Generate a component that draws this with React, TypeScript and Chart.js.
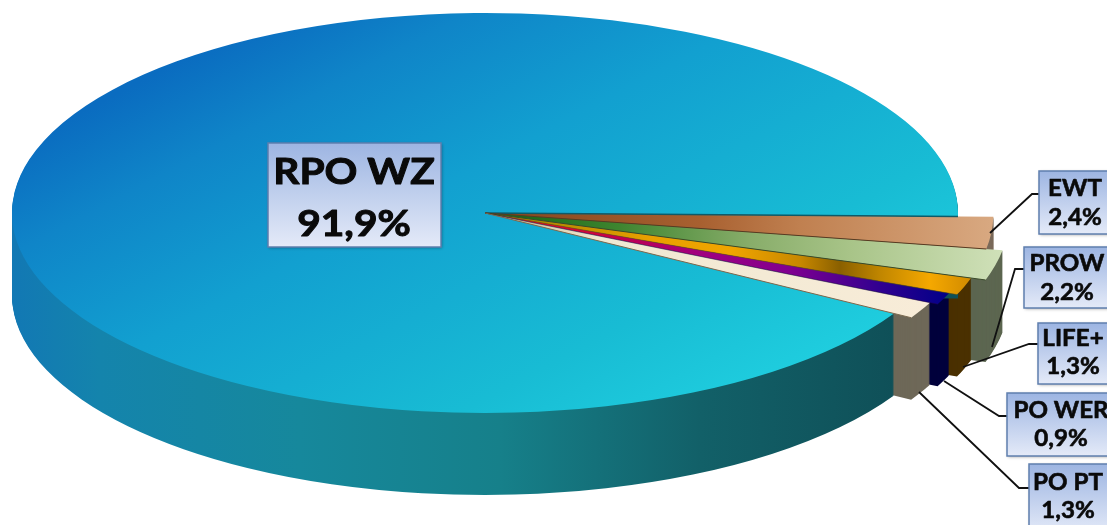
import React, { useEffect, useRef } from "react";
import { Chart, registerables } from "chart.js";

Chart.register(...registerables);

const categories = ["EWT", "PROW", "LIFE+", "PO WER", "PO PT", "RPO WZ"];
const values = [2.4, 2.2, 1.3, 0.9, 1.3, 91.9];
const valueLabels = ["2,4%", "2,2%", "1,3%", "0,9%", "1,3%", "91,9%"];

// Projection of the flat pie to the tilted disc
const CX = 485, CY = 213, RX = 473, RY = 200, DEPTH = 82;
const radiusFactor = [1.075, 1.11, 1.078, 1.06, 1.042, 1];

const topStops: [number, string][][] = [
  [[485, "#4a2810"], [520, "#8a4a20"], [700, "#a86030"], [800, "#c08050"], [990, "#d8a880"]],
  [[520, "#1a6a18"], [620, "#3f8530"], [750, "#88ad6a"], [850, "#a8c488"], [1000, "#cfe0b8"]],
  [[540, "#b08800"], [650, "#e8a000"], [730, "#f0a500"], [800, "#c88800"], [840, "#8a6000"], [880, "#c08600"], [930, "#f5a800"], [972, "#d08a00"]],
  [[540, "#e01020"], [620, "#c00050"], [700, "#a00080"], [790, "#800090"], [880, "#300090"], [949, "#000088"]],
  [[500, "#c8b890"], [600, "#f0e8d2"], [930, "#f8ecd8"]],
];
const wallColors = ["#7a6a5a", "#5c6650", "#4a3000", "#00003c", "#6e6858"];
const edgeColors = ["#5a3a20", "#3a4a2a", "#6a5000", "#200040", "#7a6a50"];
const bigWallStops: [number, string][] = [[12, "#1278b4"], [100, "#1484ac"], [300, "#16889c"], [500, "#16808a"], [700, "#126068"], [894, "#0f5058"]];
const bigTopStops: [number, string][] = [[0, "#0a6cc0"], [0.16, "#0f85c8"], [0.4, "#12a0d0"], [0.76, "#18bcd4"], [1, "#20d0e0"]];

type Lab = { x: number; y: number; w: number; h: number; tx: number; y1: number; y2: number; size: number; stretch: number; leader?: number[][] };
const labelLayout: Lab[] = [
  { x: 1039, y: 171, w: 90, h: 63, tx: 1075, y1: 189, y2: 218, size: 23, stretch: 1.05, leader: [[990, 233], [1032, 194], [1039, 194]] },
  { x: 1024, y: 247, w: 110, h: 61, tx: 1067, y1: 264, y2: 293, size: 23, stretch: 1.05, leader: [[992, 347], [1015, 269], [1024, 269]] },
  { x: 1038, y: 323, w: 90, h: 61, tx: 1073, y1: 339, y2: 367, size: 23, stretch: 1.05, leader: [[963, 367], [1029, 344], [1038, 344]] },
  { x: 1007, y: 393, w: 130, h: 63, tx: 1061, y1: 411, y2: 439, size: 23, stretch: 1.05, leader: [[944, 381], [999, 416], [1007, 416]] },
  { x: 1029, y: 464, w: 100, h: 70, tx: 1068, y1: 483, y2: 511, size: 23, stretch: 1.05, leader: [[919, 392], [1019, 488], [1029, 488]] },
  { x: 268, y: 143, w: 173, h: 104, tx: 354, y1: 172, y2: 224, size: 37, stretch: 1.1 },
];

const pie3d = {
  id: "pie3d",
  beforeDatasetsDraw(chart: any) {
    const ctx: CanvasRenderingContext2D = chart.ctx;
    const els = chart.getDatasetMeta(0).data;
    const drawEl = (i: number, fill: any, f: number, d: number) => {
      const el = els[i];
      const R = el.outerRadius;
      const saved = el.options;
      const o = Object.create(saved);
      o.backgroundColor = fill;
      o.borderWidth = 0;
      el.options = o;
      ctx.save();
      ctx.translate(CX, CY + d);
      ctx.scale((RX * f) / R, (RY * f) / R);
      ctx.translate(-el.x, -el.y);
      el.draw(ctx);
      ctx.restore();
      el.options = saved;
    };
    const hGrad = (i: number, stops: [number, string][], f: number) => {
      const el = els[i];
      const sx = (RX * f) / el.outerRadius;
      const X0 = stops[0][0], X1 = stops[stops.length - 1][0];
      const g = ctx.createLinearGradient(el.x + (X0 - CX) / sx, 0, el.x + (X1 - CX) / sx, 0);
      stops.forEach(([X, c]) => g.addColorStop((X - X0) / (X1 - X0), c));
      return g;
    };
    const last = els.length - 1;
    // walls of the small slices, back to front
    for (let i = 0; i < last; i++) {
      for (let d = DEPTH; d >= 1; d--) drawEl(i, wallColors[i], radiusFactor[i], d);
    }
    // big slice: wall, then top
    const bigWall = hGrad(last, bigWallStops, 1);
    for (let d = DEPTH; d >= 1; d--) drawEl(last, bigWall, 1, d);
    const el = els[last];
    const R = el.outerRadius;
    const top = ctx.createLinearGradient(el.x - 0.765 * R, el.y - 0.613 * R, el.x + 0.841 * R, el.y + 0.675 * R);
    bigTopStops.forEach(([t, c]) => top.addColorStop(t, c));
    drawEl(last, top, 1, 0);
    // tops of the small slices
    for (let i = 0; i < last; i++) drawEl(i, hGrad(i, topStops[i], radiusFactor[i]), radiusFactor[i], 0);
    // thin edges between the slices
    const edge = (angle: number, f: number, color: string, w: number) => {
      ctx.strokeStyle = color;
      ctx.lineWidth = w;
      ctx.beginPath();
      ctx.moveTo(CX, CY);
      ctx.lineTo(CX + RX * f * Math.cos(angle), CY + RY * f * Math.sin(angle));
      ctx.stroke();
    };
    edge(els[0].startAngle, 1, "#0f5a68", 1.6);
    for (let i = 0; i < last; i++) edge(els[i].endAngle, radiusFactor[i], edgeColors[i], i === 2 || i === 3 ? 0.5 : 1);
    return false;
  },
  afterDraw(chart: any) {
    const ctx: CanvasRenderingContext2D = chart.ctx;
    labelLayout.forEach((l, i) => {
      ctx.save();
      if (l.leader) {
        ctx.strokeStyle = "#111";
        ctx.lineWidth = 1.8;
        ctx.beginPath();
        l.leader.forEach(([x, y], k) => (k ? ctx.lineTo(x, y) : ctx.moveTo(x, y)));
        ctx.stroke();
      }
      const g = ctx.createLinearGradient(0, l.y, 0, l.y + l.h);
      g.addColorStop(0, "#9db5e2");
      g.addColorStop(1, "#e4eaf8");
      ctx.shadowColor = "rgba(0,0,0,0.35)";
      ctx.shadowBlur = 3;
      ctx.shadowOffsetX = 1;
      ctx.shadowOffsetY = 1;
      ctx.fillStyle = g;
      ctx.fillRect(l.x, l.y, l.w, l.h);
      ctx.shadowColor = "transparent";
      ctx.strokeStyle = "#5f7fae";
      ctx.lineWidth = 1.5;
      ctx.strokeRect(l.x, l.y, l.w, l.h);
      ctx.fillStyle = "#0a0a0a";
      ctx.strokeStyle = "#0a0a0a";
      ctx.lineWidth = l.size > 30 ? 1 : 0.6;
      ctx.lineJoin = "round";
      ctx.font = `bold ${l.size}px Lato`;
      ctx.textAlign = "center";
      ctx.textBaseline = "middle";
      const put = (t: string, y: number) => {
        ctx.save();
        ctx.translate(l.tx, y);
        ctx.scale(l.stretch, 1);
        ctx.fillText(t, 0, 0);
        ctx.strokeText(t, 0, 0);
        ctx.restore();
      };
      put(categories[i], l.y1);
      put(valueLabels[i], l.y2);
      ctx.restore();
    });
  },
};

export default function App() {
  const ref = useRef<HTMLCanvasElement>(null);
  useEffect(() => {
    document.body.style.margin = "0";
    document.body.style.background = "#fff";
    const chart = new Chart(ref.current!, {
      type: "pie",
      data: {
        labels: categories,
        datasets: [{ data: values, backgroundColor: "#1090d0", borderWidth: 0 }],
      },
      options: {
        animation: false,
        responsive: false,
        devicePixelRatio: 1,
        rotation: 91,
        layout: { padding: 0 },
        plugins: { legend: { display: false }, tooltip: { enabled: false } },
      },
      plugins: [pie3d as any],
    });
    return () => chart.destroy();
  }, []);
  return (
    <div style={{ position: "fixed", left: 0, top: 0, width: 1107, height: 525, overflow: "hidden" }}>
      <canvas ref={ref} width={1107} height={525} style={{ display: "block" }} />
    </div>
  );
}
